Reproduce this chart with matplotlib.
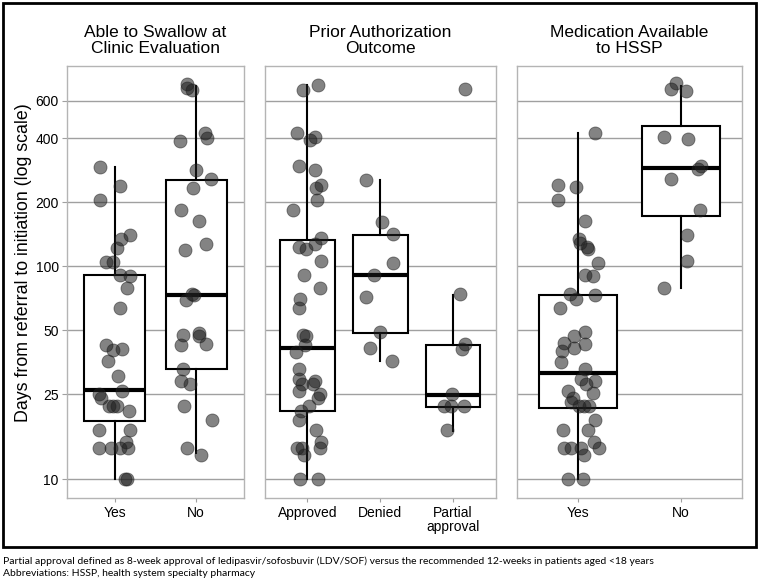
import matplotlib
matplotlib.use("Agg")
import matplotlib.pyplot as plt
from matplotlib.patches import Rectangle

plt.rcParams['font.family'] = ['Liberation Sans', 'DejaVu Sans']

# log-scale days from referral to initiation
yticks = [10, 25, 50, 100, 200, 400, 600]

# panel 1: able to swallow at clinic evaluation
swallow_cats = ['Yes', 'No']
swallow_yes = [293, 240, 206, 140, 135, 122, 105, 105, 91, 90,
               79, 64, 42.5, 41, 40.5, 36, 30.5, 26, 25, 24,
               22, 22, 22, 21, 17, 17, 15, 14, 14, 14,
               14, 10, 10]
swallow_yes_jit = [-0.18, 0.06, -0.18, 0.18, 0.08, 0.02, -0.11, -0.02, 0.06, 0.18,
                   0.15, 0.06, -0.11, 0.09, -0.02, -0.09, 0.04, 0.09, -0.19, -0.17,
                   -0.07, 0.02, -0.02, 0.17, -0.2, 0.18, 0.14, -0.2, -0.05, 0.06,
                   0.16, 0.13, 0.15]
swallow_no = [722, 690, 673, 389, 424, 401, 283, 257, 233, 185,
              163, 128, 120, 74.5, 73, 69.5, 47.5, 48.5, 47, 42.5,
              43, 33, 29, 28, 22, 19, 14, 13]
swallow_no_jit = [-0.11, -0.11, -0.05, -0.2, 0.11, 0.13, 0.0, 0.18, -0.04, -0.18,
                  0.04, 0.12, -0.14, -0.05, -0.02, -0.12, -0.16, 0.03, 0.04, -0.18,
                  0.12, -0.16, -0.18, -0.08, -0.15, 0.19, -0.11, 0.06]
# box stats: whislo, q1, median, q3, whishi
swallow_box = [[10, 18.8, 26.1, 90.7, 292],
               [13.3, 33, 73.6, 255, 708]]

# panel 2: prior authorization outcome
pa_cats = ['Approved', 'Denied', 'Partial\napproval']
pa_approved = [716, 673, 424, 404, 394, 295, 284, 242, 233, 206,
               185, 136, 128, 123, 121, 106, 91, 79, 70, 64,
               47.5, 47, 42.5, 39.5, 33, 29.5, 29, 28, 28, 26,
               25, 24, 22, 21, 19, 17, 15, 14, 14, 14,
               13, 10, 10]
pa_approved_jit = [0.14, -0.06, -0.15, 0.1, 0.03, -0.12, 0.1, 0.18, 0.12, 0.13,
                   -0.2, 0.18, 0.1, -0.12, -0.02, 0.19, -0.05, 0.17, -0.1, -0.11,
                   -0.06, -0.02, -0.04, -0.16, -0.12, -0.11, 0.1, 0.08, -0.08, -0.12,
                   0.17, 0.15, 0.02, -0.09, -0.12, 0.12, 0.18, -0.14, -0.08, 0.17,
                   -0.05, -0.1, 0.14]
pa_denied = [256, 162, 142, 104, 91, 72, 49, 41.5, 36]
pa_denied_jit = [-0.19, 0.03, 0.17, 0.17, -0.09, -0.19, -0.01, -0.14, 0.16]
pa_partial = [683, 74, 43, 41, 25, 22, 22, 22, 17]
pa_partial_jit = [0.16, 0.09, 0.17, 0.12, -0.02, -0.12, -0.03, 0.15, -0.08]
pa_box = [[10, 21, 41.3, 133.4, 709],
          [35.9, 48.7, 90.7, 140.6, 254],
          [16.9, 21.8, 24.8, 42.7, 73]]

# panel 3: medication available to HSSP
hssp_cats = ['Yes', 'No']
hssp_yes = [426, 242, 235, 206, 163, 135, 129, 123, 121, 104,
            91.5, 90.5, 74, 70, 73, 64, 49, 47, 43, 43.5,
            41.5, 40, 35.5, 33, 29.5, 29, 28, 26, 25.5, 24,
            23, 22, 22, 22, 19, 17, 17, 15, 14, 14,
            14, 14, 13, 10, 10]
hssp_yes_jit = [0.17, -0.19, -0.02, -0.19, 0.07, 0.01, 0.02, 0.09, 0.1, 0.19,
                0.07, 0.15, -0.08, -0.02, 0.17, -0.17, 0.07, -0.04, 0.07, -0.13,
                -0.04, -0.15, -0.16, 0.07, 0.03, 0.17, 0.08, -0.1, 0.15, -0.05,
                -0.07, 0.01, 0.11, 0.06, 0.17, -0.14, 0.1, 0.16, -0.13, -0.07,
                0.03, 0.2, 0.06, -0.1, 0.05]
hssp_no = [725, 685, 668, 405, 396, 297, 286, 258, 185, 141, 106, 79]
hssp_no_jit = [-0.05, -0.1, 0.05, -0.17, 0.07, 0.19, 0.16, -0.1, 0.18, 0.06, 0.06, -0.17]
hssp_box = [[10, 21.5, 31.4, 73.2, 423],
            [79.5, 172, 290, 455, 703]]

panels = [
    ("Able to Swallow at\nClinic Evaluation", swallow_cats,
     [swallow_yes, swallow_no], [swallow_yes_jit, swallow_no_jit], swallow_box),
    ("Prior Authorization\nOutcome", pa_cats,
     [pa_approved, pa_denied, pa_partial],
     [pa_approved_jit, pa_denied_jit, pa_partial_jit], pa_box),
    ("Medication Available\nto HSSP", hssp_cats,
     [hssp_yes, hssp_no], [hssp_yes_jit, hssp_no_jit], hssp_box),
]

notes = ["Partial approval defined as 8-week approval of ledipasvir/sofosbuvir (LDV/SOF) "
         "versus the recommended 12-weeks in patients aged <18 years",
         "Abbreviations: HSSP, health system specialty pharmacy"]

W, H = 760, 581
fig = plt.figure(figsize=(W / 100, H / 100), dpi=100)

# axes boxes in pixels: left, right
px_lr = [(67, 244), (264.5, 496), (517, 742)]
top_px, bot_px = 65.5, 497.7

for i, (title, cats, groups, jits, boxes) in enumerate(panels):
    l, r = px_lr[i]
    ax = fig.add_axes([l / W, 1 - bot_px / H, (r - l) / W, (bot_px - top_px) / H])
    ax.set_yscale('log')
    ax.set_ylim(8.17, 880)
    n = len(cats)
    ax.set_xlim(-0.59, n - 1 + 0.59)

    stats = [dict(whislo=b[0], q1=b[1], med=b[2], q3=b[3], whishi=b[4], fliers=[])
             for b in boxes]
    ax.bxp(stats, positions=range(n), widths=0.75, showcaps=False,
           patch_artist=True, showfliers=False,
           boxprops=dict(facecolor='white', edgecolor='black', linewidth=1.5),
           whiskerprops=dict(color='black', linewidth=1.5),
           medianprops=dict(color='black', linewidth=3, solid_capstyle='butt'),
           zorder=2)

    for k, (vals, jit) in enumerate(zip(groups, jits)):
        xs = [k + j for j in jit]
        ax.scatter(xs, vals, s=88, facecolor='#1e1e1e', edgecolor='#1e1e1e',
                   linewidth=0.6, alpha=0.55, zorder=3)

    ax.set_yticks(yticks)
    ax.minorticks_off()
    ax.grid(axis='y', color='#a0a0a0', linewidth=1.0)
    ax.set_axisbelow(True)
    ax.set_xticks(range(n))
    ax.set_xticklabels(cats, fontsize=10, linespacing=1.0)
    ax.tick_params(axis='x', length=3, color='#a0a0a0', pad=3)
    for s in ax.spines.values():
        s.set_color('#b4b4b4')
        s.set_linewidth(1.0)
    if i == 0:
        ax.set_yticklabels([str(t) for t in yticks], fontsize=10)
        ax.tick_params(axis='y', length=3.6, color='#a0a0a0', pad=2.4)
        ax.set_ylabel("Days from referral to initiation (log scale)", fontsize=12.8)
        ax.yaxis.set_label_coords(-0.198, 0.543)
    else:
        ax.set_yticklabels([])
        ax.tick_params(axis='y', length=0)
    ax.set_title(title, fontsize=12.5, pad=9, linespacing=1.12)

# outer frame
fig.add_artist(Rectangle((2.7 / W, 1 - 546.7 / H), (755.7 - 2.7) / W, (546.7 - 2.7) / H,
                         transform=fig.transFigure, fill=False, edgecolor='black',
                         linewidth=2.0))

# footnotes, sized so the first line spans the same width as in the source
note1 = fig.text(3 / W, 1 - 564.5 / H, notes[0], fontsize=8, family='Lato', va='baseline')
note2 = fig.text(3 / W, 1 - 576.5 / H, notes[1], fontsize=8, family='Lato', va='baseline')
fig.canvas.draw()
w = note1.get_window_extent().width
size = 8 * 652 / w
note1.set_fontsize(size)
note2.set_fontsize(size)

fig.savefig("out.png", dpi=100)
